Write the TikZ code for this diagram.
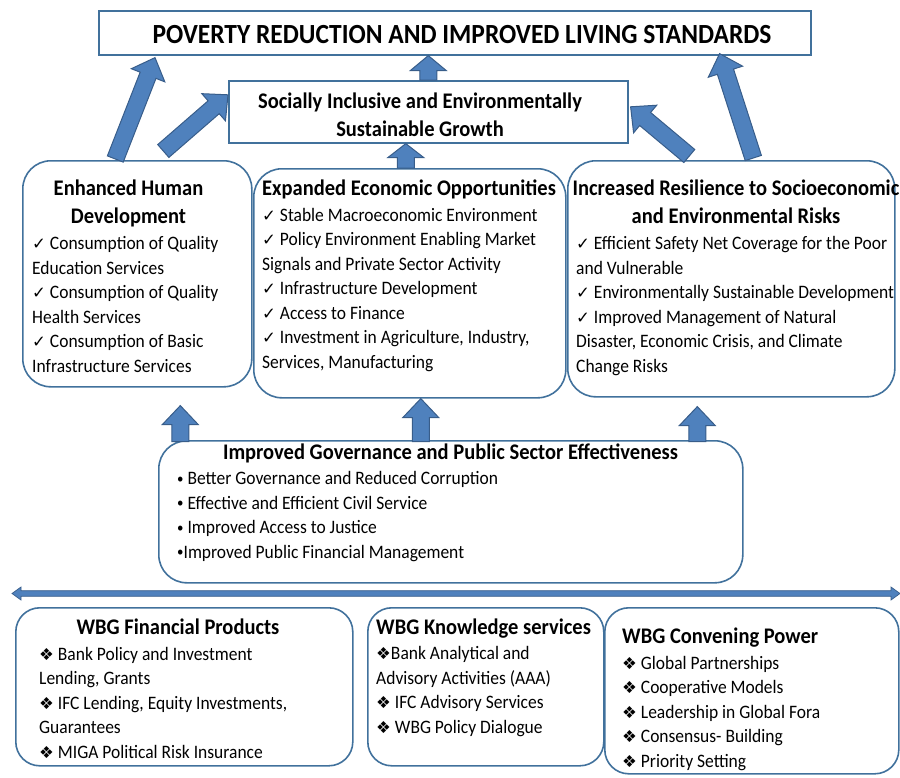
\documentclass[tikz,border=0pt]{standalone}
\usepackage{fontspec}
\setmainfont{Carlito}[FakeStretch=0.92]
\newfontfamily\symfont{DejaVu Sans}
\usepackage{xcolor}
\usetikzlibrary{calc,positioning}

\definecolor{boxblue}{HTML}{41719C}
\definecolor{arrowblue}{HTML}{4F81BD}
\definecolor{arrowedge}{HTML}{385D8A}

\newcommand{\chk}{{\fontsize{16.5}{16.5}\selectfont\symfont ✓}}
\newcommand{\dmd}{{\fontsize{16.5}{16.5}\selectfont\symfont ❖}}
\newcommand{\bul}{\raisebox{1.3pt}{\fontsize{14}{14}\selectfont •}}

% block arrow: [head length]{tail}{tip}
\newcommand{\fatarrow}[3][19pt]{%
  \coordinate (ftail) at (#2);
  \coordinate (ftip) at (#3);
  \coordinate (fhead) at ($(ftip)!#1!(ftail)$);
  \draw[fatarrow] ($(ftail)!8.5pt!90:(ftip)$) -- ($(fhead)!8.5pt!-90:(ftail)$)
    -- ($(fhead)!18pt!-90:(ftail)$) -- (ftip) -- ($(fhead)!18pt!90:(ftail)$)
    -- ($(fhead)!8.5pt!90:(ftail)$) -- ($(ftail)!8.5pt!-90:(ftip)$) -- cycle;
}

\begin{document}
\begin{tikzpicture}[x=1pt, y=-1pt,
  goalbox/.style={draw=boxblue, line width=1.6pt, anchor=north west, inner sep=0pt},
  panel/.style={draw=boxblue, line width=1.6pt, rounded corners=28pt, anchor=north west, inner sep=0pt},
  head/.style={inner sep=0pt, align=center, anchor=base, font=\fontsize{22.3}{28}\selectfont\bfseries},
  list/.style={inner sep=0pt, anchor=base west, align=left, font=\fontsize{19}{24.5}\selectfont},
  fatarrow/.style={fill=arrowblue, draw=arrowedge, line width=1pt}]

\useasboundingbox (0,0) rectangle (900,777);

% outcomes (multi-line texts sit on their last baseline)
\node[goalbox, minimum width=712pt, minimum height=44pt] (goal) at (98,10) {};
\node[head, font=\fontsize{27.7}{30}\selectfont\bfseries] (goaltxt) at (462,43)
  {POVERTY REDUCTION AND IMPROVED LIVING STANDARDS};

\node[goalbox, minimum width=399pt, minimum height=62pt] (soc) at (228,80) {};
\node[head] (soctxt) at (420,136) {Socially Inclusive and Environmentally\\Sustainable Growth};

% pillars
\node[panel, minimum width=229pt, minimum height=226pt] (hum) at (22,160) {};
\node[head] (humhead) at (128.5,223.5) {Enhanced Human\\Development};
\node[list] (humlist) at (32,372) {\chk{} Consumption of Quality\\Education Services\\
  \chk{} Consumption of Quality\\Health Services\\
  \chk{} Consumption of Basic\\Infrastructure Services};

\node[panel, minimum width=312pt, minimum height=229pt] (eco) at (253,168) {};
\node[head, anchor=base west] (ecohead) at (262,195) {Expanded Economic Opportunities};
\node[list] (ecolist) at (262,368) {\chk{} Stable Macroeconomic Environment\\
  \chk{} Policy Environment Enabling Market\\Signals and Private Sector Activity\\
  \chk{} Infrastructure Development\\
  \chk{} Access to Finance\\
  \chk{} Investment in Agriculture, Industry,\\Services, Manufacturing};

\node[panel, minimum width=327pt, minimum height=236pt] (res) at (567,160) {};
\node[head] (reshead) at (736,223) {Increased Resilience to Socioeconomic\\and Environmental Risks};
\node[list] (reslist) at (576,372) {\chk{} Efficient Safety Net Coverage for the Poor\\and Vulnerable\\
  \chk{} Environmentally Sustainable Development\\
  \chk{} Improved Management of Natural\\Disaster, Economic Crisis, and Climate\\Change Risks};

% governance
\node[panel, minimum width=584pt, minimum height=142pt] (gov) at (158,440) {};
\node[head] (govhead) at (450.5,459) {Improved Governance and Public Sector Effectiveness};
\node[list] (govlist) at (177,558) {\bul{} Better Governance and Reduced Corruption\\
  \bul{} Effective and Efficient Civil Service\\
  \bul{} Improved Access to Justice\\
  \bul{}Improved Public Financial Management};

% WBG instruments
\tikzset{panel/.append style={rounded corners=24pt}}
\node[panel, minimum width=337pt, minimum height=158pt] (fin) at (15,607) {};
\node[head] (finhead) at (178,634) {WBG Financial Products};
\node[list] (finlist) at (39,758) {\dmd{} Bank Policy and Investment\\Lending, Grants\\
  \dmd{} IFC Lending, Equity Investments,\\Guarantees\\
  \dmd{} MIGA Political Risk Insurance};

\node[panel, minimum width=236pt, minimum height=158pt] (kno) at (367,607) {};
\node[head, anchor=base west] (knohead) at (376,634) {WBG Knowledge services};
\node[list] (knolist) at (376,733) {\dmd{}Bank Analytical and\\Advisory Activities (AAA)\\
  \dmd{} IFC Advisory Services\\
  \dmd{} WBG Policy Dialogue};

\node[panel, minimum width=294pt, minimum height=166pt] (con) at (604,607) {};
\node[head, anchor=base west] (conhead) at (622,643) {WBG Convening Power};
\node[list] (conlist) at (622,767) {\dmd{} Global Partnerships\\
  \dmd{} Cooperative Models\\
  \dmd{} Leadership in Global Fora\\
  \dmd{} Consensus- Building\\
  \dmd{} Priority Setting};

% arrows
\fatarrow{$(hum.north)+(-22,-1)$}{$(goal.south west)+(57,2)$}
\fatarrow{$(hum.north)+(26,-9)$}{$(soc.west)+(0,-17)$}
\fatarrow[15pt]{soc.north}{ftail |- goal.south}
\fatarrow[14pt]{$(eco.north)+(-4,0)$}{ftail |- soc.south}
\fatarrow{$(res.north)+(-42,-4)$}{$(soc.east)+(2,-5)$}
\fatarrow{$(res.north)+(22,-2)$}{$(goal.south east)+(-92,-2)$}

\fatarrow{$(hum.south)+(43,54)$}{$(hum.south)+(43,18)$}
\fatarrow{$(eco.south)+(11,43)$}{eco.south -| ftail}
\fatarrow{$(res.south)+(-34,44)$}{$(res.south)+(-34,9)$}

% two-way bar
\coordinate (barl) at (12,593.5);
\coordinate (barr) at (900,593.5);
\draw[fatarrow, line width=0.7pt] (barl) -- ($(barl)+(9,-6.5)$) -- ($(barl)+(9,-2.8)$)
  -- ($(barr)+(-9,-2.8)$) -- ($(barr)+(-9,-6.5)$) -- (barr) -- ($(barr)+(-9,6.5)$)
  -- ($(barr)+(-9,2.8)$) -- ($(barl)+(9,2.8)$) -- ($(barl)+(9,6.5)$) -- cycle;
\end{tikzpicture}
\end{document}
